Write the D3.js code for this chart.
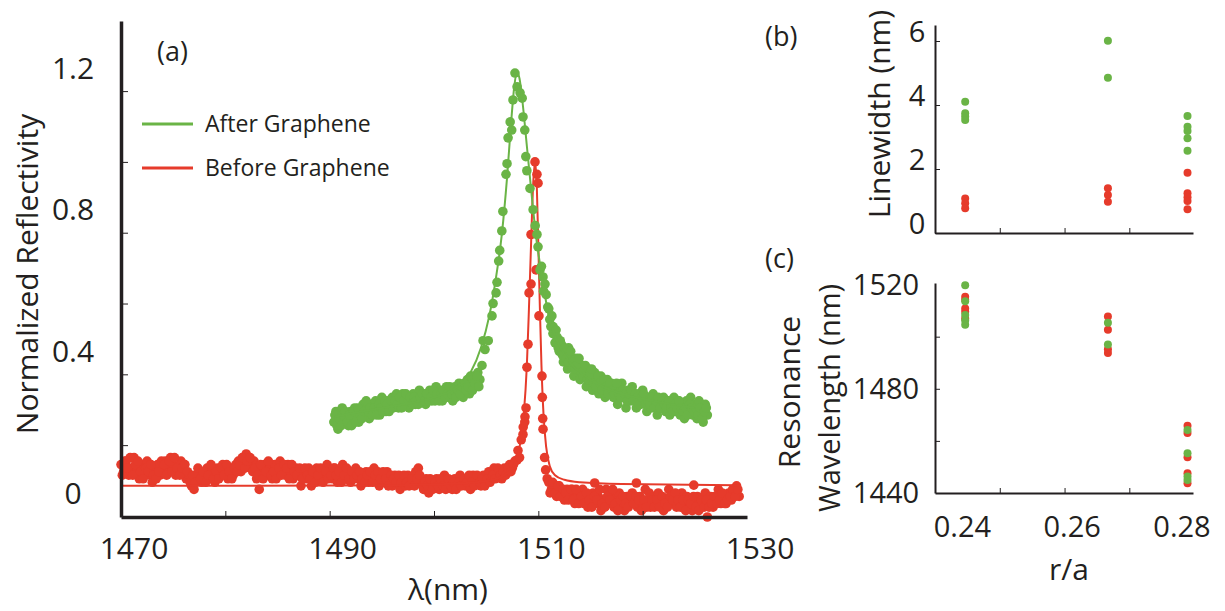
<!DOCTYPE html>
<html><head><meta charset="utf-8">
<script src="https://cdn.jsdelivr.net/npm/d3@7"></script>
<style>
html,body{margin:0;padding:0;background:#fff;}
svg text{font-family:"Open Sans",sans-serif;fill:#231f20;}
</style></head>
<body><svg id="c" width="1225" height="611"></svg>
<script>
// ---------- DATA ----------
const seriesNames = ["After Graphene", "Before Graphene"];
const colors = {green: "#6ab446", red: "#e63b2b"};

// panel (a) axis labels
const aXLabels = [1470, 1490, 1510, 1530];
const aXTicks = [1480, 1490, 1500, 1510, 1520];
const aYLabels = [0, 0.4, 0.8, 1.2];
const aYTicks = [0.135, 0.335, 0.535, 0.735, 0.935, 1.135];

// Before graphene: measured points [lambda nm, reflectivity]
const redPoints = [
[1470.00,0.08],[1470.25,0.06],[1470.50,0.09],[1470.75,0.05],[1471.00,0.07],[1471.25,0.10],[1471.50,0.06],[1471.75,0.04],
[1472.00,0.08],[1472.25,0.06],[1472.50,0.09],[1472.75,0.05],[1473.00,0.03],[1473.25,0.07],[1473.50,0.08],[1473.75,0.05],
[1474.00,0.06],[1474.25,0.09],[1474.50,0.07],[1474.75,0.10],[1475.00,0.08],[1475.25,0.05],[1475.50,0.07],[1475.75,0.09],
[1476.00,0.06],[1476.25,0.04],[1476.50,0.05],[1476.75,0.02],[1477.00,0.01],[1477.25,0.04],[1477.50,0.06],[1477.75,0.03],
[1478.00,0.05],[1478.25,0.07],[1478.50,0.04],[1478.75,0.06],[1479.00,0.03],[1479.25,0.07],[1479.50,0.05],[1479.75,0.08],
[1480.00,0.06],[1480.25,0.04],[1480.50,0.07],[1480.75,0.05],[1481.00,0.08],[1481.25,0.09],[1481.50,0.06],[1481.75,0.10],
[1482.00,0.11],[1482.25,0.08],[1482.50,0.07],[1482.75,0.09],[1483.00,0.04],[1483.25,0.01],[1483.50,0.06],[1483.75,0.08],
[1484.00,0.05],[1484.25,0.07],[1484.50,0.04],[1484.75,0.08],[1485.00,0.06],[1485.25,0.09],[1485.50,0.07],[1485.75,0.05],
[1486.00,0.08],[1486.25,0.06],[1486.50,0.04],[1486.75,0.07],[1487.00,0.05],[1487.25,0.02],[1487.50,0.06],[1487.75,0.04],
[1488.00,0.07],[1488.25,0.02],[1488.50,0.05],[1488.75,0.07],[1489.00,0.04],[1489.25,0.06],[1489.50,0.05],[1489.75,0.08],
[1490.00,0.06],[1490.25,0.04],[1490.50,0.07],[1490.75,0.03],[1491.00,0.05],[1491.25,0.08],[1491.50,0.04],[1491.75,0.06],
[1492.00,0.03],[1492.25,0.05],[1492.50,0.07],[1492.75,0.04],[1493.00,0.02],[1493.25,0.05],[1493.50,0.06],[1493.75,0.03],
[1494.00,0.05],[1494.25,0.07],[1494.50,0.04],[1494.75,0.02],[1495.00,0.05],[1495.25,0.03],[1495.50,0.06],[1495.75,0.04],
[1496.00,0.02],[1496.25,0.05],[1496.50,0.03],[1496.75,0.01],[1497.00,0.04],[1497.25,0.02],[1497.50,0.05],[1497.75,0.03],
[1498.00,0.04],[1498.25,0.06],[1498.50,0.07],[1498.75,0.03],[1499.00,0.01],[1499.25,0.04],[1499.50,0.00],[1499.75,0.03],
[1500.00,0.02],[1500.25,0.04],[1500.50,0.01],[1500.75,0.03],[1501.00,0.05],[1501.25,0.02],[1501.50,0.03],[1501.75,0.01],
[1502.00,0.04],[1502.25,0.02],[1502.50,0.05],[1502.75,0.03],[1503.00,0.02],[1503.25,0.04],[1503.50,0.01],[1503.75,0.05],
[1504.00,0.03],[1504.25,0.04],[1504.50,0.02],[1504.75,0.05],[1505.00,0.03],[1505.25,0.06],[1505.50,0.04],[1505.75,0.07],
[1506.00,0.05],[1506.25,0.06],[1506.50,0.04],[1506.75,0.07],[1507.00,0.06],[1507.25,0.08],[1507.50,0.07],[1507.75,0.09],
[1507.96,0.093],[1508.05,0.12],[1508.20,0.10],[1508.36,0.15],[1508.53,0.165],[1508.55,0.186],[1508.72,0.215],[1508.70,0.20],
[1508.82,0.24],[1508.91,0.355],[1509.01,0.42],[1509.11,0.565],[1509.30,0.59],[1509.30,0.73],[1509.68,0.935],[1509.87,0.90],
[1509.97,0.875],[1509.78,0.63],[1510.06,0.50],[1510.35,0.33],[1510.38,0.27],[1510.42,0.21],[1510.45,0.18],[1510.60,0.10],
[1510.70,0.065],[1510.85,0.04],
[1511.00,0.03],[1511.25,0.01],[1511.50,0.02],[1511.75,-0.01],[1512.00,0.02],[1512.25,0.00],[1512.50,-0.02],[1512.75,0.01],
[1513.00,-0.01],[1513.25,0.01],[1513.50,-0.03],[1513.75,0.00],[1514.00,-0.02],[1514.25,0.01],[1514.50,-0.01],[1514.75,-0.04],
[1515.00,-0.02],[1515.25,0.00],[1515.50,-0.03],[1515.75,-0.01],[1516.00,-0.05],[1516.25,-0.02],[1516.50,0.01],[1516.75,-0.03],
[1517.00,-0.01],[1517.25,-0.04],[1517.50,-0.02],[1517.75,0.00],[1518.00,-0.03],[1518.25,-0.05],[1518.50,-0.01],[1518.75,-0.03],
[1519.00,0.00],[1519.25,-0.02],[1519.50,-0.04],[1519.75,-0.01],[1520.00,-0.03],[1520.25,0.01],[1520.50,-0.02],[1520.75,-0.04],
[1521.00,-0.01],[1521.25,-0.03],[1521.50,0.00],[1521.75,-0.02],[1522.00,-0.05],[1522.25,-0.02],[1522.50,0.01],[1522.75,-0.03],
[1523.00,-0.01],[1523.25,-0.04],[1523.50,-0.02],[1523.75,0.00],[1524.00,-0.03],[1524.25,-0.01],[1524.50,-0.04],[1524.75,-0.05],
[1525.00,-0.03],[1525.25,-0.01],[1525.50,-0.04],[1525.75,-0.02],[1526.00,0.00],[1526.25,-0.03],[1526.50,-0.01],[1526.75,-0.04],
[1527.00,-0.02],[1527.25,0.01],[1527.50,-0.03],[1527.75,-0.01],[1528.00,-0.03],[1528.25,0.00],[1528.50,-0.02],[1528.75,0.01],
[1529.00,0.02],[1529.25,-0.01],
[1515.40,0.028],[1519.40,0.028],[1524.90,0.022],[1526.20,-0.068]
];
// Before graphene: second sweep of measured points
const redPoints2 = [
[1470.125,0.05],[1470.375,0.09],[1470.625,0.07],[1470.875,0.10],[1471.125,0.05],[1471.375,0.08],[1471.625,0.09],[1471.875,0.06],
[1472.125,0.04],[1472.375,0.07],[1472.625,0.06],[1472.875,0.08],[1473.125,0.05],[1473.375,0.04],[1473.625,0.06],[1473.875,0.09],
[1474.125,0.08],[1474.375,0.05],[1474.625,0.09],[1474.875,0.06],[1475.125,0.10],[1475.375,0.07],[1475.625,0.05],[1475.875,0.07],
[1476.125,0.08],[1476.375,0.06],[1476.625,0.03],[1476.875,0.05],[1477.125,0.03],[1477.375,0.07],[1477.625,0.04],[1477.875,0.06],
[1478.125,0.03],[1478.375,0.05],[1478.625,0.08],[1478.875,0.04],[1479.125,0.06],[1479.375,0.04],[1479.625,0.07],[1479.875,0.05],
[1480.125,0.08],[1480.375,0.06],[1480.625,0.04],[1480.875,0.07],[1481.125,0.06],[1481.375,0.08],[1481.625,0.10],[1481.875,0.07],
[1482.125,0.09],[1482.375,0.10],[1482.625,0.06],[1482.875,0.07],[1483.125,0.05],[1483.375,0.08],[1483.625,0.04],[1483.875,0.06],
[1484.125,0.09],[1484.375,0.05],[1484.625,0.06],[1484.875,0.04],[1485.125,0.07],[1485.375,0.05],[1485.625,0.08],[1485.875,0.07],
[1486.125,0.04],[1486.375,0.08],[1486.625,0.06],[1486.875,0.05],[1487.125,0.07],[1487.375,0.04],[1487.625,0.07],[1487.875,0.05],
[1488.125,0.04],[1488.375,0.06],[1488.625,0.03],[1488.875,0.05],[1489.125,0.07],[1489.375,0.03],[1489.625,0.06],[1489.875,0.04],
[1490.125,0.05],[1490.375,0.07],[1490.625,0.05],[1490.875,0.06],[1491.125,0.03],[1491.375,0.05],[1491.625,0.07],[1491.875,0.04],
[1492.125,0.06],[1492.375,0.04],[1492.625,0.05],[1492.875,0.06],[1493.125,0.04],[1493.375,0.03],[1493.625,0.05],[1493.875,0.06],
[1494.125,0.03],[1494.375,0.05],[1494.625,0.06],[1494.875,0.04],[1495.125,0.06],[1495.375,0.04],[1495.625,0.02],[1495.875,0.05],
[1496.125,0.04],[1496.375,0.03],[1496.625,0.05],[1496.875,0.03],[1497.125,0.05],[1497.375,0.03],[1497.625,0.02],[1497.875,0.04],
[1498.125,0.02],[1498.375,0.04],[1498.625,0.05],[1498.875,0.02],[1499.125,0.03],[1499.375,0.02],[1499.625,0.04],[1499.875,0.01],
[1500.125,0.03],[1500.375,0.02],[1500.625,0.04],[1500.875,0.02],[1501.125,0.01],[1501.375,0.04],[1501.625,0.02],[1501.875,0.03],
[1502.125,0.01],[1502.375,0.03],[1502.625,0.02],[1502.875,0.04],[1503.125,0.03],[1503.375,0.05],[1503.625,0.03],[1503.875,0.02],
[1504.125,0.05],[1504.375,0.03],[1504.625,0.04],[1504.875,0.02],[1505.125,0.04],[1505.375,0.03],[1505.625,0.05],[1505.875,0.04],
[1506.125,0.07],[1506.375,0.05],[1506.625,0.06],[1506.875,0.05],[1507.125,0.07],[1507.375,0.06],[1507.625,0.08],
[1511.125,0.00],[1511.375,0.03],[1511.625,0.00],[1511.875,0.02],[1512.125,-0.01],[1512.375,0.01],[1512.625,0.00],[1512.875,-0.02],
[1513.125,0.01],[1513.375,-0.02],[1513.625,0.01],[1513.875,-0.03],[1514.125,-0.01],[1514.375,-0.03],[1514.625,0.00],[1514.875,-0.02],
[1515.125,-0.04],[1515.375,-0.01],[1515.625,-0.02],[1515.875,0.01],[1516.125,-0.03],[1516.375,-0.04],[1516.625,-0.01],[1516.875,-0.02],
[1517.125,0.01],[1517.375,-0.03],[1517.625,-0.05],[1517.875,-0.02],[1518.125,-0.01],[1518.375,-0.03],[1518.625,-0.04],[1518.875,-0.01],
[1519.125,-0.03],[1519.375,-0.01],[1519.625,-0.02],[1519.875,-0.05],[1520.125,-0.02],[1520.375,-0.04],[1520.625,0.00],[1520.875,-0.02],
[1521.125,-0.04],[1521.375,-0.02],[1521.625,-0.04],[1521.875,-0.01],[1522.125,-0.03],[1522.375,-0.04],[1522.625,-0.01],[1522.875,-0.02],
[1523.125,0.00],[1523.375,-0.02],[1523.625,-0.04],[1523.875,-0.02],[1524.125,-0.05],[1524.375,-0.02],[1524.625,-0.03],[1524.875,-0.01],
[1525.125,-0.04],[1525.375,-0.05],[1525.625,-0.02],[1525.875,-0.04],[1526.125,-0.02],[1526.375,-0.04],[1526.625,-0.03],[1526.875,-0.01],
[1527.125,-0.03],[1527.375,-0.02],[1527.625,0.00],[1527.875,-0.03],[1528.125,-0.02],[1528.375,-0.01],[1528.625,0.01],[1528.875,-0.01],
[1529.125,0.01]
];

// Before graphene: fitted curve
const redFit = [
[1470,0.02],[1480,0.02],[1490,0.021],[1500,0.024],[1504,0.03],[1506,0.04],[1507,0.055],[1507.7,0.08],
[1508.2,0.13],[1508.6,0.22],[1508.9,0.36],[1509.1,0.52],[1509.3,0.70],[1509.5,0.87],[1509.68,0.935],
[1509.85,0.87],[1510.0,0.70],[1510.15,0.52],[1510.3,0.36],[1510.5,0.22],[1510.75,0.13],[1511.1,0.075],
[1511.6,0.05],[1512.5,0.037],[1514,0.03],[1518,0.025],[1529,0.022]
];

// After graphene: measured points
const greenPoints = [
[1490.4,0.20],[1490.6,0.23],[1490.8,0.18],[1491.0,0.22],[1491.2,0.24],[1491.4,0.20],[1491.6,0.22],[1491.8,0.19],
[1492.0,0.23],[1492.2,0.21],[1492.4,0.24],[1492.6,0.22],[1492.8,0.20],[1493.0,0.23],[1493.2,0.25],[1493.4,0.22],
[1493.6,0.24],[1493.8,0.21],[1494.0,0.25],[1494.2,0.23],[1494.4,0.26],[1494.6,0.24],[1494.8,0.22],[1495.0,0.27],
[1495.2,0.25],[1495.4,0.23],[1495.6,0.26],[1495.8,0.24],[1496.0,0.27],[1496.2,0.25],[1496.4,0.28],[1496.6,0.24],
[1496.8,0.26],[1497.0,0.28],[1497.2,0.25],[1497.4,0.27],[1497.6,0.24],[1497.8,0.26],[1498.0,0.28],[1498.2,0.25],
[1498.4,0.27],[1498.6,0.29],[1498.8,0.26],[1499.0,0.28],[1499.2,0.25],[1499.4,0.27],[1499.6,0.29],[1499.8,0.26],
[1500.0,0.28],[1500.2,0.30],[1500.4,0.27],[1500.6,0.29],[1500.8,0.26],[1501.0,0.28],[1501.2,0.30],[1501.4,0.27],
[1501.6,0.29],[1501.8,0.26],[1502.0,0.30],[1502.2,0.28],[1502.4,0.31],[1502.6,0.29],[1502.8,0.27],[1503.0,0.30],
[1503.2,0.32],[1503.4,0.28],[1503.6,0.31],[1503.8,0.33],[1504.0,0.30],[1504.2,0.34],[1504.4,0.32],[1504.6,0.36],
[1504.7,0.43],[1504.89,0.405],[1505.2,0.43],[1505.56,0.50],[1505.66,0.535],[1505.95,0.565],[1506.04,0.595],
[1506.2,0.655],[1506.3,0.685],[1506.5,0.74],[1506.6,0.795],[1506.9,0.90],[1507.0,0.93],[1507.1,1.003],
[1507.3,1.048],[1507.45,1.025],[1507.57,1.11],[1507.76,1.186],[1507.96,1.147],[1508.25,1.13],[1508.45,1.115],
[1508.53,1.062],[1508.7,1.025],[1508.8,0.95],[1508.9,0.91],[1509.2,0.86],[1509.5,0.80],[1509.7,0.755],
[1509.87,0.73],[1509.97,0.695],[1510.16,0.63],[1510.3,0.64],[1510.45,0.61],[1510.5,0.57],[1510.64,0.59],
[1510.75,0.56],[1510.9,0.525],[1511.0,0.52],[1511.1,0.49],[1511.2,0.47],[1511.3,0.50],[1511.4,0.45],
[1511.41,0.47],[1511.5,0.45],[1511.6,0.424],[1511.7,0.46],[1512.1,0.405],
[1511.8,0.44],[1512.0,0.40],[1512.2,0.42],[1512.4,0.37],[1512.6,0.40],[1512.8,0.35],[1512.9,0.41],[1513.0,0.39],
[1513.2,0.36],[1513.4,0.33],[1513.6,0.38],[1513.8,0.35],[1514.0,0.32],[1514.2,0.36],[1514.4,0.34],[1514.6,0.30],
[1514.8,0.35],[1515.0,0.32],[1515.2,0.29],[1515.4,0.34],[1515.6,0.31],[1515.8,0.28],[1516.0,0.33],[1516.2,0.30],
[1516.4,0.27],[1516.6,0.32],[1516.8,0.29],[1517.0,0.31],[1517.2,0.27],[1517.4,0.30],[1517.6,0.25],[1517.8,0.29],
[1518.0,0.31],[1518.2,0.27],[1518.4,0.24],[1518.6,0.29],[1518.8,0.26],[1519.0,0.30],[1519.2,0.27],[1519.4,0.24],
[1519.6,0.28],[1519.8,0.25],[1520.0,0.29],[1520.2,0.26],[1520.4,0.23],[1520.6,0.27],[1520.8,0.24],[1521.0,0.28],
[1521.2,0.25],[1521.4,0.22],[1521.6,0.26],[1521.8,0.24],[1522.0,0.27],[1522.2,0.23],[1522.4,0.26],[1522.6,0.22],
[1522.8,0.25],[1523.0,0.27],[1523.2,0.23],[1523.4,0.26],[1523.6,0.22],[1523.8,0.25],[1524.0,0.21],[1524.2,0.26],
[1524.4,0.23],[1524.6,0.27],[1524.8,0.22],[1525.0,0.25],[1525.2,0.21],[1525.4,0.26],[1525.6,0.23],[1525.8,0.20],
[1526.0,0.25],[1526.2,0.22]
];
// After graphene: second sweep of measured points
const greenPoints2 = [
[1490.5,0.22],[1490.7,0.19],[1490.9,0.21],[1491.1,0.19],[1491.3,0.22],[1491.5,0.23],[1491.7,0.20],[1491.9,0.22],
[1492.1,0.19],[1492.3,0.23],[1492.5,0.20],[1492.7,0.24],[1492.9,0.22],[1493.1,0.21],[1493.3,0.23],[1493.5,0.26],
[1493.7,0.23],[1493.9,0.24],[1494.1,0.22],[1494.3,0.24],[1494.5,0.22],[1494.7,0.25],[1494.9,0.24],[1495.1,0.23],
[1495.3,0.26],[1495.5,0.25],[1495.7,0.23],[1495.9,0.26],[1496.1,0.24],[1496.3,0.26],[1496.5,0.25],[1496.7,0.27],
[1496.9,0.24],[1497.1,0.26],[1497.3,0.28],[1497.5,0.26],[1497.7,0.27],[1497.9,0.25],[1498.1,0.27],[1498.3,0.26],
[1498.5,0.25],[1498.7,0.27],[1498.9,0.28],[1499.1,0.26],[1499.3,0.28],[1499.5,0.26],[1499.7,0.27],[1499.9,0.29],
[1500.1,0.26],[1500.3,0.28],[1500.5,0.26],[1500.7,0.28],[1500.9,0.29],[1501.1,0.27],[1501.3,0.28],[1501.5,0.30],
[1501.7,0.28],[1501.9,0.29],[1502.1,0.27],[1502.3,0.29],[1502.5,0.28],[1502.7,0.30],[1502.9,0.31],[1503.1,0.29],
[1503.3,0.30],[1503.5,0.33],[1503.7,0.29],[1503.9,0.31],[1504.1,0.33],[1504.3,0.30],
[1511.9,0.41],[1512.1,0.43],[1512.3,0.39],[1512.5,0.41],[1512.7,0.38],[1512.9,0.37],[1513.1,0.40],[1513.3,0.37],
[1513.5,0.35],[1513.7,0.36],[1513.9,0.38],[1514.1,0.34],[1514.3,0.33],[1514.5,0.36],[1514.7,0.32],[1514.9,0.33],
[1515.1,0.35],[1515.3,0.31],[1515.5,0.30],[1515.7,0.33],[1515.9,0.31],[1516.1,0.29],[1516.3,0.32],[1516.5,0.30],
[1516.7,0.28],[1516.9,0.31],[1517.1,0.29],[1517.3,0.28],[1517.5,0.31],[1517.7,0.28],[1517.9,0.27],[1518.1,0.29],
[1518.3,0.28],[1518.5,0.26],[1518.7,0.28],[1518.9,0.29],[1519.1,0.26],[1519.3,0.28],[1519.5,0.27],[1519.7,0.25],
[1519.9,0.27],[1520.1,0.28],[1520.3,0.25],[1520.5,0.26],[1520.7,0.25],[1520.9,0.27],[1521.1,0.24],[1521.3,0.26],
[1521.5,0.27],[1521.7,0.24],[1521.9,0.26],[1522.1,0.25],[1522.3,0.24],[1522.5,0.26],[1522.7,0.24],[1522.9,0.23],
[1523.1,0.25],[1523.3,0.24],[1523.5,0.26],[1523.7,0.24],[1523.9,0.23],[1524.1,0.24],[1524.3,0.22],[1524.5,0.25],
[1524.7,0.24],[1524.9,0.23],[1525.1,0.24],[1525.3,0.22],[1525.5,0.24],[1525.7,0.21],[1525.9,0.23],[1526.1,0.24]
];

// After graphene: fitted curve
const greenFit = [
[1490.5,0.215],[1494,0.235],[1497,0.25],[1500,0.27],[1502,0.295],[1503.5,0.34],[1504.5,0.41],[1505.3,0.5],
[1505.9,0.6],[1506.5,0.73],[1507.0,0.89],[1507.4,1.05],[1507.7,1.15],[1507.95,1.19],[1508.2,1.17],[1508.5,1.10],
[1508.9,0.98],[1509.3,0.86],[1509.8,0.72],[1510.3,0.62],[1511,0.50],[1511.8,0.43],[1513,0.37],[1515,0.32],
[1518,0.28],[1521,0.26],[1525,0.24]
];

// panel (b),(c): r/a categories
const rXLabels = [0.24, 0.26, 0.28];
const rXTicks = [0.2468, 0.2586, 0.2704];
const bYLabels = [0, 2, 4, 6];
const cYLabels = [1440, 1480, 1520];
const cYTicks = [1460, 1480, 1500];

// linewidth (nm)
const lwGreen = [[0.2405,4.10],[0.2405,3.74],[0.2405,3.64],[0.2405,3.53],[0.2665,6.01],[0.2665,4.85],
                 [0.281,3.66],[0.281,3.32],[0.281,3.19],[0.281,2.96],[0.281,2.57]];
const lwRed = [[0.2405,1.08],[0.2405,0.93],[0.2405,0.77],[0.2665,1.40],[0.2665,1.19],[0.2665,0.98],
               [0.281,1.88],[0.281,1.24],[0.281,1.12],[0.281,1.00],[0.281,0.74]];
// resonance wavelength (nm)
const rwRed = [[0.2405,1515.3],[0.2405,1514.2],[0.2405,1510.8],[0.2405,1509.6],[0.2405,1507.0],
               [0.2665,1507.7],[0.2665,1502.7],[0.2665,1495.2],[0.2665,1493.7],
               [0.281,1465.8],[0.281,1463.0],[0.281,1453.7],[0.281,1447.6],[0.281,1443.7]];
const rwGreen = [[0.2405,1519.7],[0.2405,1513.6],[0.2405,1508.3],[0.2405,1506.2],[0.2405,1504.6],
                 [0.2665,1505.3],[0.2665,1497.0],
                 [0.281,1464.2],[0.281,1455.3],[0.281,1446.3],[0.281,1445.0]];

// ---------- DRAW ----------
const svg = d3.select("#c");
const ink = "#231f20";

function styleAxis(g, w) {
  g.select(".domain").attr("stroke", ink).attr("stroke-width", w);
  g.selectAll(".tick line").attr("stroke", ink).attr("stroke-width", 1);
  g.selectAll(".tick text").remove();
}

// ---- panel (a)
const xA = d3.scaleLinear().domain([1470, 1530]).range([121, 747]);
const yA = d3.scaleLinear().domain([-0.068, 1.333]).range([517, 21]);

const gA = svg.append("g");
const lineA = d3.line().x(d => xA(d[0])).y(d => yA(d[1])).curve(d3.curveMonotoneX);
const dotR = 4.8;

gA.append("g").selectAll("circle").data(redPoints.concat(redPoints2)).join("circle")
  .attr("cx", d => xA(d[0])).attr("cy", d => yA(d[1])).attr("r", dotR).attr("fill", colors.red);
gA.append("path").datum(redFit).attr("d", lineA).attr("fill", "none")
  .attr("stroke", colors.red).attr("stroke-width", 2);
gA.append("g").selectAll("circle").data(greenPoints.concat(greenPoints2)).join("circle")
  .attr("cx", d => xA(d[0])).attr("cy", d => yA(d[1])).attr("r", dotR).attr("fill", colors.green);
gA.append("path").datum(greenFit).attr("d", lineA).attr("fill", "none")
  .attr("stroke", colors.green).attr("stroke-width", 2);

gA.append("g").attr("transform", "translate(0,517)")
  .call(d3.axisBottom(xA).tickValues(aXTicks).tickSize(-6).tickSizeOuter(0))
  .call(g => styleAxis(g, 3.5));
gA.append("g").attr("transform", "translate(121,0)")
  .call(d3.axisLeft(yA).tickValues(aYTicks).tickSize(-7).tickSizeOuter(0))
  .call(g => styleAxis(g, 3.5));

gA.selectAll(".xl").data(aXLabels).join("text")
  .attr("x", d => xA(d) + 13).attr("y", 559).attr("text-anchor", "middle")
  .attr("font-size", 30).text(d => d);
gA.selectAll(".yl").data(aYLabels).join("text")
  .attr("x", 73).attr("y", d => yA(d)).attr("dy", "0.36em").attr("text-anchor", "middle")
  .attr("font-size", 30).text(d => d);

gA.append("text").attr("x", 448).attr("y", 600).attr("text-anchor", "middle")
  .attr("font-size", 30).text("λ(nm)");
gA.append("text").attr("transform", "translate(38,274) rotate(-90)").attr("text-anchor", "middle")
  .attr("font-size", 30).text("Normalized Reflectivity");
gA.append("text").attr("x", 157).attr("y", 61).attr("font-size", 27).text("(a)");

// legend
const legend = [{name: seriesNames[0], c: colors.green, y: 124}, {name: seriesNames[1], c: colors.red, y: 168}];
const lg = gA.append("g");
lg.selectAll("line").data(legend).join("line")
  .attr("x1", 142).attr("x2", 193).attr("y1", d => d.y).attr("y2", d => d.y)
  .attr("stroke", d => d.c).attr("stroke-width", 3);
lg.selectAll("text").data(legend).join("text")
  .attr("x", 205).attr("y", d => d.y + 8).attr("font-size", 23).text(d => d.name);

// ---- panels (b) & (c)
const xR = d3.scaleLinear().domain([0.235, 0.282]).range([935, 1193]);
const yB = d3.scaleLinear().domain([0, 6.5]).range([233, 25]);
const yC = d3.scaleLinear().domain([1440, 1520.6]).range([493, 283]);

const gB = svg.append("g");
gB.append("g").selectAll("circle").data(lwRed).join("circle")
  .attr("cx", d => xR(d[0])).attr("cy", d => yB(d[1])).attr("r", 4).attr("fill", colors.red);
gB.append("g").selectAll("circle").data(lwGreen).join("circle")
  .attr("cx", d => xR(d[0])).attr("cy", d => yB(d[1])).attr("r", 4).attr("fill", colors.green);
gB.append("g").attr("transform", "translate(0,233)")
  .call(d3.axisBottom(xR).tickValues(rXTicks).tickSize(-5).tickSizeOuter(0))
  .call(g => styleAxis(g, 2));
gB.append("g").attr("transform", "translate(935,0)")
  .call(d3.axisLeft(yB).tickValues(bYLabels).tickSize(-5).tickSizeOuter(0))
  .call(g => styleAxis(g, 2));
gB.selectAll(".yl").data(bYLabels).join("text")
  .attr("x", 917).attr("y", d => yB(d) - 9).attr("dy", "0.36em").attr("text-anchor", "middle")
  .attr("font-size", 29).text(d => d);
gB.append("text").attr("transform", "translate(890,114) rotate(-90)").attr("text-anchor", "middle")
  .attr("font-size", 30).text("Linewidth (nm)");
gB.append("text").attr("x", 765).attr("y", 46).attr("font-size", 27).text("(b)");

const gC = svg.append("g");
gC.append("g").selectAll("circle").data(rwRed).join("circle")
  .attr("cx", d => xR(d[0])).attr("cy", d => yC(d[1])).attr("r", 4).attr("fill", colors.red);
gC.append("g").selectAll("circle").data(rwGreen).join("circle")
  .attr("cx", d => xR(d[0])).attr("cy", d => yC(d[1])).attr("r", 4).attr("fill", colors.green);
gC.append("g").attr("transform", "translate(0,493)")
  .call(d3.axisBottom(xR).tickValues(rXTicks).tickSize(-5).tickSizeOuter(0))
  .call(g => styleAxis(g, 2));
gC.append("g").attr("transform", "translate(935,0)")
  .call(d3.axisLeft(yC).tickValues(cYTicks).tickSize(-5).tickSizeOuter(0))
  .call(g => styleAxis(g, 2));
gC.selectAll(".yl").data(cYLabels).join("text")
  .attr("x", 886).attr("y", d => yC(d)).attr("dy", "0.36em").attr("text-anchor", "middle")
  .attr("font-size", 29).text(d => d);
gC.selectAll(".xl").data(rXLabels).join("text")
  .attr("x", d => xR(d)).attr("y", 537).attr("text-anchor", "middle")
  .attr("font-size", 29).text(d => d.toFixed(2));
gC.append("text").attr("x", 1069).attr("y", 580).attr("text-anchor", "middle")
  .attr("font-size", 30).text("r/a");
gC.append("text").attr("transform", "translate(800,392) rotate(-90)").attr("text-anchor", "middle")
  .attr("font-size", 30).text("Resonance");
gC.append("text").attr("transform", "translate(840,398) rotate(-90)").attr("text-anchor", "middle")
  .attr("font-size", 29).text("Wavelength (nm)");
gC.append("text").attr("x", 765).attr("y", 268).attr("font-size", 27).text("(c)");
</script></body></html>
